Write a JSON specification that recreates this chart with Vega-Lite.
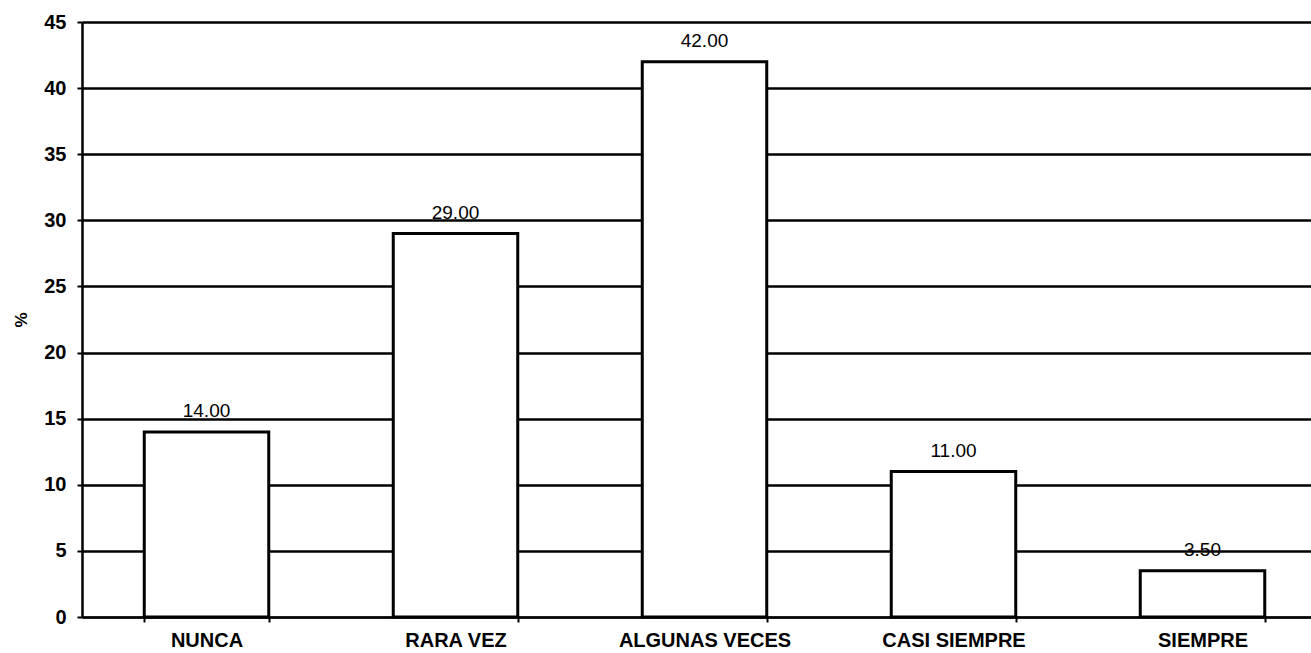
{
  "$schema": "https://vega.github.io/schema/vega-lite/v6.json",
  "autosize": {"type": "none"},
  "width": 1229,
  "height": 595,
  "padding": {"left": 82, "top": 22, "right": 0, "bottom": 36},
  "background": "white",
  "config": {
    "view": {"stroke": null},
    "font": "Liberation Sans"
  },
  "data": {
    "values": [
      {"respuesta": "NUNCA", "porcentaje": 14.0},
      {"respuesta": "RARA VEZ", "porcentaje": 29.0},
      {"respuesta": "ALGUNAS VECES", "porcentaje": 42.0},
      {"respuesta": "CASI SIEMPRE", "porcentaje": 11.0},
      {"respuesta": "SIEMPRE", "porcentaje": 3.5}
    ]
  },
  "encoding": {
    "x": {
      "field": "respuesta",
      "type": "nominal",
      "sort": null,
      "scale": {"range": [0, 1245], "paddingInner": 0.5, "paddingOuter": 0.25},
      "axis": {
        "title": null,
        "labelAngle": 0,
        "labelFont": "Liberation Sans",
        "labelFontSize": 20,
        "labelFontWeight": "bold",
        "labelColor": "black",
        "labelPadding": 8,
        "tickBand": "extent",
        "tickColor": "black",
        "tickWidth": 2,
        "tickSize": 5,
        "domainColor": "black",
        "domainWidth": 2,
        "grid": false
      }
    },
    "y": {
      "field": "porcentaje",
      "type": "quantitative",
      "scale": {"domain": [0, 45], "nice": false},
      "axis": {
        "title": "%",
        "titleFont": "Liberation Sans",
        "titleFontSize": 17,
        "titleFontWeight": "bold",
        "titleColor": "black",
        "titlePadding": 13,
        "values": [0, 5, 10, 15, 20, 25, 30, 35, 40, 45],
        "labelFont": "Liberation Sans",
        "labelFontSize": 20,
        "labelFontWeight": "bold",
        "labelColor": "black",
        "labelPadding": 11,
        "tickColor": "black",
        "tickWidth": 2,
        "tickSize": 5,
        "domainColor": "black",
        "domainWidth": 2.5,
        "grid": true,
        "gridColor": "black",
        "gridWidth": 2.5,
        "gridOpacity": 1
      }
    }
  },
  "layer": [
    {
      "mark": {"type": "bar", "fill": "white", "stroke": "black", "strokeWidth": 3}
    },
    {
      "mark": {
        "type": "text",
        "baseline": "alphabetic",
        "dy": -15,
        "font": "Liberation Sans",
        "fontSize": 19,
        "color": "black"
      },
      "encoding": {
        "text": {"field": "porcentaje", "type": "quantitative", "format": ".2f"}
      }
    }
  ]
}
